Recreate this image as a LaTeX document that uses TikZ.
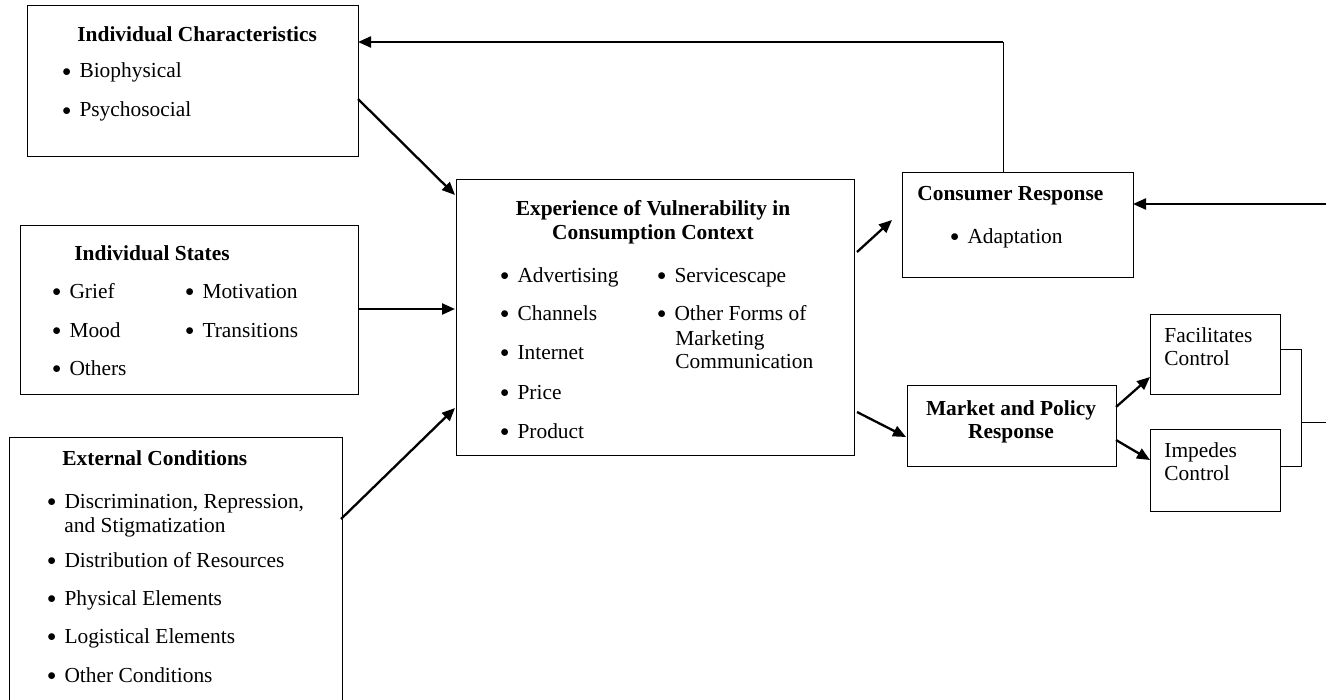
\documentclass[tikz,border=0pt]{standalone}
\usepackage{fontspec}
\usepackage{graphicx}
\setmainfont{Liberation Serif}
\usetikzlibrary{arrows.meta,fit}
\newcommand\fs{\fontsize{10.7}{12.2}\selectfont}
\newcommand\itm{\makebox[0.8em][l]{\raisebox{0.15ex}{\scalebox{0.8}{$\bullet$}}}}
\begin{document}
\begin{tikzpicture}[x=0.5pt,y=-0.5pt,
  box/.style={draw, line width=0.5pt, inner sep=0pt},
  txt/.style={anchor=base west, inner sep=0pt, font=\fs},
  ttl/.style={anchor=base west, inner sep=0pt, font=\fs\bfseries},
  ctl/.style={anchor=base, inner sep=0pt, font=\fs\bfseries},
  arr/.style={line width=1.15pt, -{Triangle[length=6.5pt,width=5.5pt]}},
  thinln/.style={line width=0.5pt}]
\useasboundingbox (0,0) rectangle (1326,700);
% boxes
\node[box, fit={(27,6)(358,157)}] (ic) {};
\node[box, fit={(20,226)(358,394)}] (is) {};
\node[box, fit={(9,437)(342,700)}] (ec) {};
\node[box, fit={(456,180)(854,455)}] (ev) {};
\node[box, fit={(902,173)(1133,277)}] (cr) {};
\node[box, fit={(907,385)(1116,466)}] (mp) {};
\node[box, fit={(1150,314)(1280,394)}] (fc) {};
\node[box, fit={(1150,429)(1280,511)}] (pc) {};
% texts: individual characteristics
\node[ttl] (ict) at (77,42) {Individual Characteristics};
\node[txt] (ic1) at (62,78) {\itm Biophysical};
\node[txt] (ic2) at (62,117) {\itm Psychosocial};
% individual states
\node[ttl] (ist) at (74,260) {Individual States};
\node[txt] (is1) at (52,298) {\itm Grief};
\node[txt] (is2) at (52,337) {\itm Mood};
\node[txt] (is3) at (52,375) {\itm Others};
\node[txt] (is4) at (185,298) {\itm Motivation};
\node[txt] (is5) at (185,337) {\itm Transitions};
% external conditions
\node[ttl] (ect) at (62,465) {External Conditions};
\node[txt] (ec1) at (47,508) {\itm Discrimination, Repression,};
\node[txt] (ec1b) at (64,532) {and Stigmatization};
\node[txt] (ec2) at (47,567) {\itm Distribution of Resources};
\node[txt] (ec3) at (47,605) {\itm Physical Elements};
\node[txt] (ec4) at (47,643) {\itm Logistical Elements};
\node[txt] (ec5) at (47,682) {\itm Other Conditions};
% experience
\node[ctl] (evt1) at (653,215) {Experience of Vulnerability in};
\node[ctl] (evt2) at (653,240) {Consumption Context};
\node[txt] (ev1) at (500,282) {\itm Advertising};
\node[txt] (ev2) at (500,320) {\itm Channels};
\node[txt] (ev3) at (500,359) {\itm Internet};
\node[txt] (ev4) at (500,399) {\itm Price};
\node[txt] (ev5) at (500,438) {\itm Product};
\node[txt] (ev6) at (657,282) {\itm Servicescape};
\node[txt] (ev7) at (657,320) {\itm Other Forms of};
\node[txt] (ev7b) at (675,345) {Marketing};
\node[txt] (ev7c) at (675,368) {Communication};
% consumer response
\node[ttl] (crt) at (917,201) {Consumer Response};
\node[txt] (cr1) at (950,243) {\itm Adaptation};
% market
\node[ctl] (mpt1) at (1011,415) {Market and Policy};
\node[ctl] (mpt2) at (1011,438) {Response};
% facilitates / impedes
\node[txt] (fct1) at (1164,342) {Facilitates};
\node[txt] (fct2) at (1164,365) {Control};
\node[txt] (pct1) at (1164,457) {Impedes};
\node[txt] (pct2) at (1164,480) {Control};
% connector coordinates
\coordinate (a1s) at (358,99);
\coordinate (a1e) at (455,195);
\coordinate (a2s) at (358,309);
\coordinate (a2e) at (455,309);
\coordinate (a3s) at (341,519);
\coordinate (a3e) at (455,408);
\coordinate (a4s) at (857,252);
\coordinate (a4e) at (892,220);
\coordinate (a5s) at (857,412);
\coordinate (a5e) at (906,437);
\coordinate (a6s) at (1116,407);
\coordinate (a6e) at (1150,377);
\coordinate (a7s) at (1116,440);
\coordinate (a7e) at (1150,460);
\coordinate (fbtop) at (1003,173);
\coordinate (fbc) at (1003,42);
\coordinate (fbe) at (358,42);
\coordinate (rin) at (1326,204);
\coordinate (rend) at (1133,204);
\coordinate (b1) at (1280,349);
\coordinate (b2) at (1301,349);
\coordinate (b3) at (1301,466);
\coordinate (b4) at (1280,466);
\coordinate (b5) at (1301,422);
\coordinate (b6) at (1326,422);
% connectors
\draw[arr] (a1s) -- (a1e);
\draw[arr] (a2s) -- (a2e);
\draw[arr] (a3s) -- (a3e);
\draw[arr] (a4s) -- (a4e);
\draw[arr] (a5s) -- (a5e);
\draw[arr] (a6s) -- (a6e);
\draw[arr] (a7s) -- (a7e);
\draw[thinln] (fbtop) -- (fbc);
\draw[arr] (fbc) -- (fbe);
\draw[arr] (rin) -- (rend);
\draw[thinln] (b1) -- (b2) -- (b3) -- (b4);
\draw[thinln] (b5) -- (b6);
\end{tikzpicture}
\end{document}
